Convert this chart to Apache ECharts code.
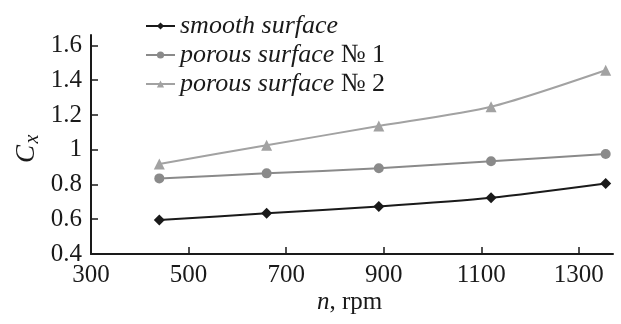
<!DOCTYPE html>
<html><head><meta charset="utf-8">
<script src="https://cdn.jsdelivr.net/npm/echarts@6/dist/echarts.min.js"></script>
<style>html,body{margin:0;padding:0;background:#fff}#c{width:621px;height:324px}</style>
</head><body><div id="c"></div>
<script>
const rpm = [440, 660, 890, 1120, 1355];
const smooth = [0.595, 0.634, 0.673, 0.723, 0.805];
const porous1 = [0.835, 0.864, 0.893, 0.934, 0.975];
const porous2 = [0.918, 1.026, 1.136, 1.247, 1.457];
const xTicks = [300, 500, 700, 900, 1100, 1300];
const yTicks = [0.4, 0.6, 0.8, 1.0, 1.2, 1.4, 1.6];
const names = ['smooth surface', 'porous surface № 1', 'porous surface № 2'];

const F = 'Liberation Serif';
const chart = echarts.init(document.getElementById('c'));
const pair = arr => rpm.map((x, i) => [x, arr[i]]);
function mk(name, data, color, symbol, size) {
  return {
    name, type: 'line', data: pair(data), smooth: 0.25,
    symbol, symbolSize: size,
    lineStyle: {color, width: 2}, itemStyle: {color}
  };
}
const near = (v, list) => list.some(t => Math.abs(t - v) < 1e-6);
chart.setOption({
  animation: false,
  grid: {left: 91, right: 8, top: 35, bottom: 70},
  legend: {
    orient: 'vertical', left: 140, top: 8,
    itemWidth: 29, itemHeight: 9, itemGap: 3,
    data: names,
    formatter: n => {
      const m = n.match(/^(.*?)( № \d)?$/);
      return '{i|' + m[1] + '}' + (m[2] ? '{r|' + m[2] + '}' : '');
    },
    textStyle: {
      fontFamily: F, fontSize: 26, color: '#1a1a1a',
      rich: {
        i: {fontFamily: F, fontSize: 26, fontStyle: 'italic', color: '#1a1a1a', lineHeight: 26},
        r: {fontFamily: F, fontSize: 26, color: '#1a1a1a', lineHeight: 26}
      }
    }
  },
  xAxis: {
    type: 'value', min: 300, max: 1370, interval: 200,
    axisLine: {lineStyle: {color: '#1a1a1a', width: 2}},
    axisTick: {inside: true, length: 7, customValues: xTicks.slice(1), lineStyle: {color: '#1a1a1a', width: 1.5}},
    axisLabel: {fontFamily: F, fontSize: 25, color: '#1a1a1a', margin: 9,
      formatter: v => near(v, xTicks) ? String(Math.round(v)) : ''},
    splitLine: {show: false}
  },
  yAxis: {
    type: 'value', min: 0.4, max: 1.66, interval: 0.2,
    axisLine: {show: true, lineStyle: {color: '#1a1a1a', width: 2}},
    axisTick: {show: true, inside: true, length: 7, customValues: yTicks.slice(1), lineStyle: {color: '#1a1a1a', width: 1.5}},
    axisLabel: {fontFamily: F, fontSize: 25, color: '#1a1a1a', margin: 9,
      formatter: v => near(v, yTicks) ? String(Math.round(v * 10) / 10) : ''},
    splitLine: {show: false}
  },
  graphic: [
    {type: 'group', x: 27, y: 148, rotation: Math.PI / 2, children: [
      {type: 'text', x: -6, y: 0, style: {text: 'C', fontFamily: F, fontSize: 27, fontStyle: 'italic', fill: '#1a1a1a', align: 'center', verticalAlign: 'middle'}},
      {type: 'text', x: 9, y: 6, style: {text: 'x', fontFamily: F, fontSize: 20, fontStyle: 'italic', fill: '#1a1a1a', align: 'center', verticalAlign: 'middle'}}
    ]},
    {type: 'text', left: 317, top: 290, style: {
      text: '{i|n}{r|, rpm}',
      rich: {
        i: {fontFamily: F, fontSize: 25, fontStyle: 'italic', fill: '#1a1a1a'},
        r: {fontFamily: F, fontSize: 25, fill: '#1a1a1a'}
      }
    }}
  ],
  series: [
    mk(names[0], smooth, '#1a1a1a', 'diamond', 11),
    mk(names[1], porous1, '#8a8a8a', 'circle', 10),
    mk(names[2], porous2, '#a2a2a2', 'triangle', 11)
  ]
});
</script></body></html>
